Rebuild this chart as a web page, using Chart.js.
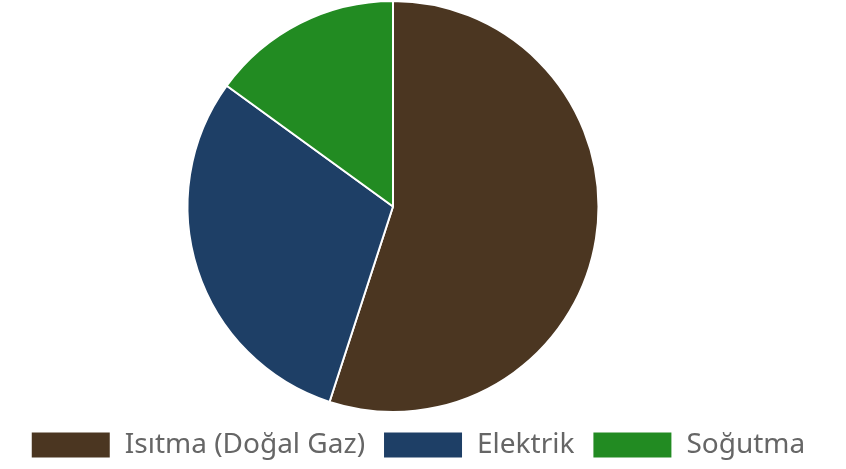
<!DOCTYPE html>
<html>
<head>
<meta charset="utf-8">
<script src="https://cdn.jsdelivr.net/npm/chart.js@4"></script>
<style>
  html, body { margin: 0; padding: 0; background: #fff; }
  #wrap { width: 846px; height: 469px; }
</style>
</head>
<body>
<div id="wrap"><canvas id="c"></canvas></div>
<script>
const categories = ["Isıtma (Doğal Gaz)", "Elektrik", "Soğutma"];
const shares = [55, 30, 15];
const sliceColors = ["#4b3621", "#1e3f66", "#228b22"];

const chart = new Chart(document.getElementById("c"), {
  type: "pie",
  data: {
    labels: categories,
    datasets: [{
      data: shares,
      backgroundColor: sliceColors,
      borderColor: "#ffffff",
      borderWidth: 2,
    }],
  },
  options: {
    responsive: true,
    maintainAspectRatio: false,
    animation: false,
    layout: { padding: { right: 10 } },
    plugins: {
      // empty title on the right only narrows the pie area, legend stays full width
      title: {
        display: true,
        position: "right",
        text: " ",
        color: "rgba(0,0,0,0)",
        fullSize: false,
        font: { size: 10 },
        padding: 19,
      },
      tooltip: { enabled: false },
      legend: {
        position: "bottom",
        labels: {
          boxWidth: 80,
          boxHeight: 27,
          padding: 18,
          color: "#666",
          font: { family: "'Noto Sans'", size: 28 },
        },
      },
    },
  },
});
</script>
</body>
</html>
